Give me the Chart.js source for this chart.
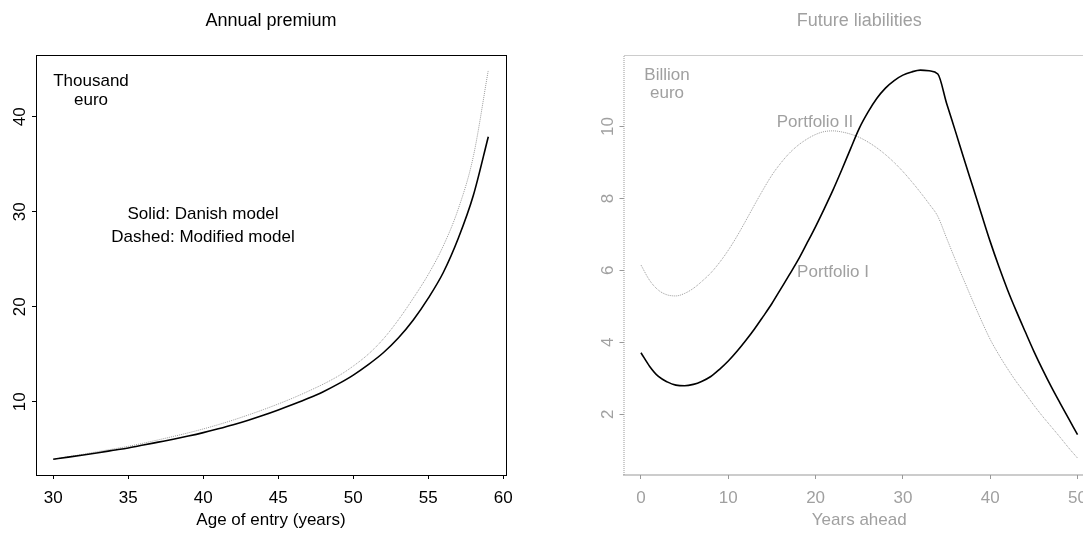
<!DOCTYPE html>
<html>
<head>
<meta charset="utf-8">
<script src="https://cdn.jsdelivr.net/npm/chart.js@4/dist/chart.umd.min.js"></script>
<style>
  html, body { margin: 0; padding: 0; background: #fff; overflow: hidden; width: 1083px; height: 533px; }
  #premiumChart { position: absolute; left: 0; top: 0; }
  #liabilityChart { position: absolute; left: 541px; top: 0; }
</style>
</head>
<body>
<canvas id="premiumChart" width="541" height="533"></canvas>
<canvas id="liabilityChart" width="570" height="533"></canvas>
<script>
// left panel: annual premium by age of entry (thousand euro)
const ages = [30, 31, 32, 33, 34, 35, 36, 37, 38, 39, 40, 41, 42, 43, 44, 45, 46, 47, 48, 49, 50, 51, 52, 53, 54, 55, 56, 57, 58, 59];
const premiumDanish = [3.94, 4.16, 4.39, 4.63, 4.88, 5.13, 5.43, 5.74, 6.05, 6.38, 6.74, 7.14, 7.57, 8.05, 8.57, 9.13, 9.72, 10.35, 11.05, 11.87, 12.8, 13.9, 15.15, 16.7, 18.6, 20.9, 23.6, 27.2, 31.7, 37.9];
const premiumModified = [3.94, 4.2, 4.47, 4.75, 5.02, 5.3, 5.63, 5.98, 6.34, 6.72, 7.13, 7.58, 8.07, 8.6, 9.16, 9.76, 10.4, 11.1, 11.85, 12.7, 13.75, 15.0, 16.6, 18.6, 20.9, 23.4, 26.4, 30.3, 35.8, 44.9];
const ageTicks = [30, 35, 40, 45, 50, 55, 60];
const premiumTicks = [10, 20, 30, 40];

// right panel: future liabilities (billion euro)
const years = [0, 1, 2, 3, 4, 5, 6, 7, 8, 9, 10, 11, 12, 13, 14, 15, 16, 17, 18, 19, 20, 21, 22, 23, 24, 25, 26, 27, 28, 29, 30, 31, 32, 33, 34, 35, 36, 37, 38, 39, 40, 41, 42, 43, 44, 45, 46, 47, 48, 49, 50];
const portfolioI = [3.71, 3.33, 3.05, 2.9, 2.81, 2.79, 2.83, 2.92, 3.05, 3.25, 3.48, 3.75, 4.05, 4.37, 4.72, 5.08, 5.48, 5.88, 6.29, 6.75, 7.22, 7.72, 8.24, 8.8, 9.38, 9.95, 10.4, 10.78, 11.07, 11.28, 11.43, 11.52, 11.57, 11.55, 11.46, 10.65, 9.88, 9.1, 8.33, 7.56, 6.8, 6.1, 5.45, 4.86, 4.3, 3.75, 3.24, 2.76, 2.31, 1.87, 1.43];
const portfolioII = [6.15, 5.72, 5.45, 5.32, 5.29, 5.36, 5.5, 5.7, 5.93, 6.22, 6.56, 6.95, 7.38, 7.82, 8.25, 8.65, 8.98, 9.26, 9.48, 9.65, 9.78, 9.86, 9.88, 9.85, 9.79, 9.7, 9.57, 9.41, 9.22, 9.0, 8.75, 8.47, 8.17, 7.85, 7.5, 6.9, 6.3, 5.72, 5.15, 4.6, 4.08, 3.65, 3.26, 2.9, 2.58, 2.25, 1.94, 1.65, 1.36, 1.06, 0.78];
const yearTicks = [0, 10, 20, 30, 40, 50];
const liabilityTicks = [2, 4, 6, 8, 10];

const FONT = '"Liberation Sans", Arial, sans-serif';
const GREY = "#a0a0a0";

function points(xs, ys) {
  return xs.map((x, i) => ({ x: x, y: ys[i] }));
}

// draws the R-style frame, rotated y labels, titles and notes
const decor = {
  id: "decor",
  afterDraw(chart, args, opts) {
    const ctx = chart.ctx;
    const a = chart.chartArea;
    const xs = chart.scales.x;
    const ys = chart.scales.y;
    ctx.save();

    ctx.strokeStyle = opts.frame;
    ctx.lineWidth = 1;
    if (opts.dotted) {
      ctx.setLineDash([1, 1]);
      ctx.beginPath();
      ctx.moveTo(a.left + 0.5, a.bottom);
      ctx.lineTo(a.left + 0.5, a.top + 0.5);
      ctx.lineTo(chart.width, a.top + 0.5);
      ctx.stroke();
      ctx.lineWidth = 2;
      ctx.beginPath();
      ctx.moveTo(a.left, a.bottom);
      ctx.lineTo(chart.width, a.bottom);
      ctx.stroke();
      ctx.setLineDash([]);
    } else {
      ctx.strokeRect(a.left + 0.5, a.top + 0.5, a.right - a.left, a.bottom - a.top);
    }

    ctx.fillStyle = opts.color;
    ctx.font = "17px " + FONT;
    ctx.textAlign = "center";
    ctx.textBaseline = "alphabetic";
    opts.xTicks.forEach((v) => {
      ctx.fillText(String(v), xs.getPixelForValue(v), 503);
    });
    opts.yTicks.forEach((v) => {
      ctx.save();
      ctx.translate(a.left - 11, ys.getPixelForValue(v));
      ctx.rotate(-Math.PI / 2);
      ctx.fillText(String(v), 0, 0);
      ctx.restore();
    });

    const mid = (a.left + a.right) / 2;
    ctx.fillText(opts.xTitle, mid, 525);
    ctx.font = "18px " + FONT;
    ctx.fillText(opts.title, mid, 26);

    ctx.font = "17px " + FONT;
    opts.notes.forEach((n) => {
      ctx.fillText(n.text, n.x, n.y);
    });
    ctx.restore();
  }
};

function tickScale(min, max, ticks, color, size, isX) {
  return {
    type: "linear",
    min: min,
    max: max,
    afterBuildTicks: (scale) => {
      scale.ticks = ticks.map((v) => ({ value: v }));
    },
    afterFit: (scale) => {
      if (isX) scale.height = size; else scale.width = size;
    },
    ticks: { display: false },
    grid: { display: true, drawOnChartArea: false, drawTicks: true, tickLength: 4, color: color, lineWidth: 1 },
    border: { display: false }
  };
}

new Chart(document.getElementById("premiumChart"), {
  type: "line",
  data: {
    datasets: [
      {
        label: "Danish model",
        data: points(ages, premiumDanish),
        borderColor: "#000",
        borderWidth: 1.6,
        pointRadius: 0,
        cubicInterpolationMode: "monotone"
      },
      {
        label: "Modified model",
        data: points(ages, premiumModified),
        borderColor: "#9a9a9a",
        borderWidth: 1,
        borderDash: [1, 1],
        pointRadius: 0,
        cubicInterpolationMode: "monotone"
      }
    ]
  },
  options: {
    responsive: false,
    animation: false,
    events: [],
    layout: { padding: { left: 0, top: 55, right: 35, bottom: 0 } },
    plugins: {
      legend: { display: false },
      tooltip: { enabled: false },
      decor: {
        frame: "#000",
        color: "#000",
        dotted: false,
        xTicks: ageTicks,
        yTicks: premiumTicks,
        title: "Annual premium",
        xTitle: "Age of entry (years)",
        notes: [
          { text: "Thousand", x: 91, y: 86 },
          { text: "euro", x: 91, y: 105 },
          { text: "Solid: Danish model", x: 203, y: 219 },
          { text: "Dashed: Modified model", x: 203, y: 242 }
        ]
      }
    },
    scales: {
      x: tickScale(28.85, 60.18, ageTicks, "#000", 58, true),
      y: tickScale(2.28, 46.5, premiumTicks, "#000", 36, false)
    }
  },
  plugins: [decor]
});

new Chart(document.getElementById("liabilityChart"), {
  type: "line",
  data: {
    datasets: [
      {
        label: "Portfolio I",
        data: points(years, portfolioI),
        borderColor: "#000",
        borderWidth: 1.6,
        pointRadius: 0,
        cubicInterpolationMode: "monotone"
      },
      {
        label: "Portfolio II",
        data: points(years, portfolioII),
        borderColor: "#9a9a9a",
        borderWidth: 1,
        borderDash: [1, 1],
        pointRadius: 0,
        cubicInterpolationMode: "monotone"
      }
    ]
  },
  options: {
    responsive: false,
    animation: false,
    events: [],
    layout: { padding: { left: 0, top: 55, right: 16, bottom: 0 } },
    plugins: {
      legend: { display: false },
      tooltip: { enabled: false },
      decor: {
        frame: "#999",
        color: GREY,
        dotted: true,
        xTicks: yearTicks,
        yTicks: liabilityTicks,
        title: "Future liabilities",
        xTitle: "Years ahead",
        notes: [
          { text: "Billion", x: 126, y: 80 },
          { text: "euro", x: 126, y: 98 },
          { text: "Portfolio II", x: 274, y: 127 },
          { text: "Portfolio I", x: 292, y: 277 }
        ]
      }
    },
    scales: {
      x: tickScale(-2, 52, yearTicks, "#999", 58, true),
      y: tickScale(0.31, 11.99, liabilityTicks, "#999", 82.5, false)
    }
  },
  plugins: [decor]
});
</script>
</body>
</html>
